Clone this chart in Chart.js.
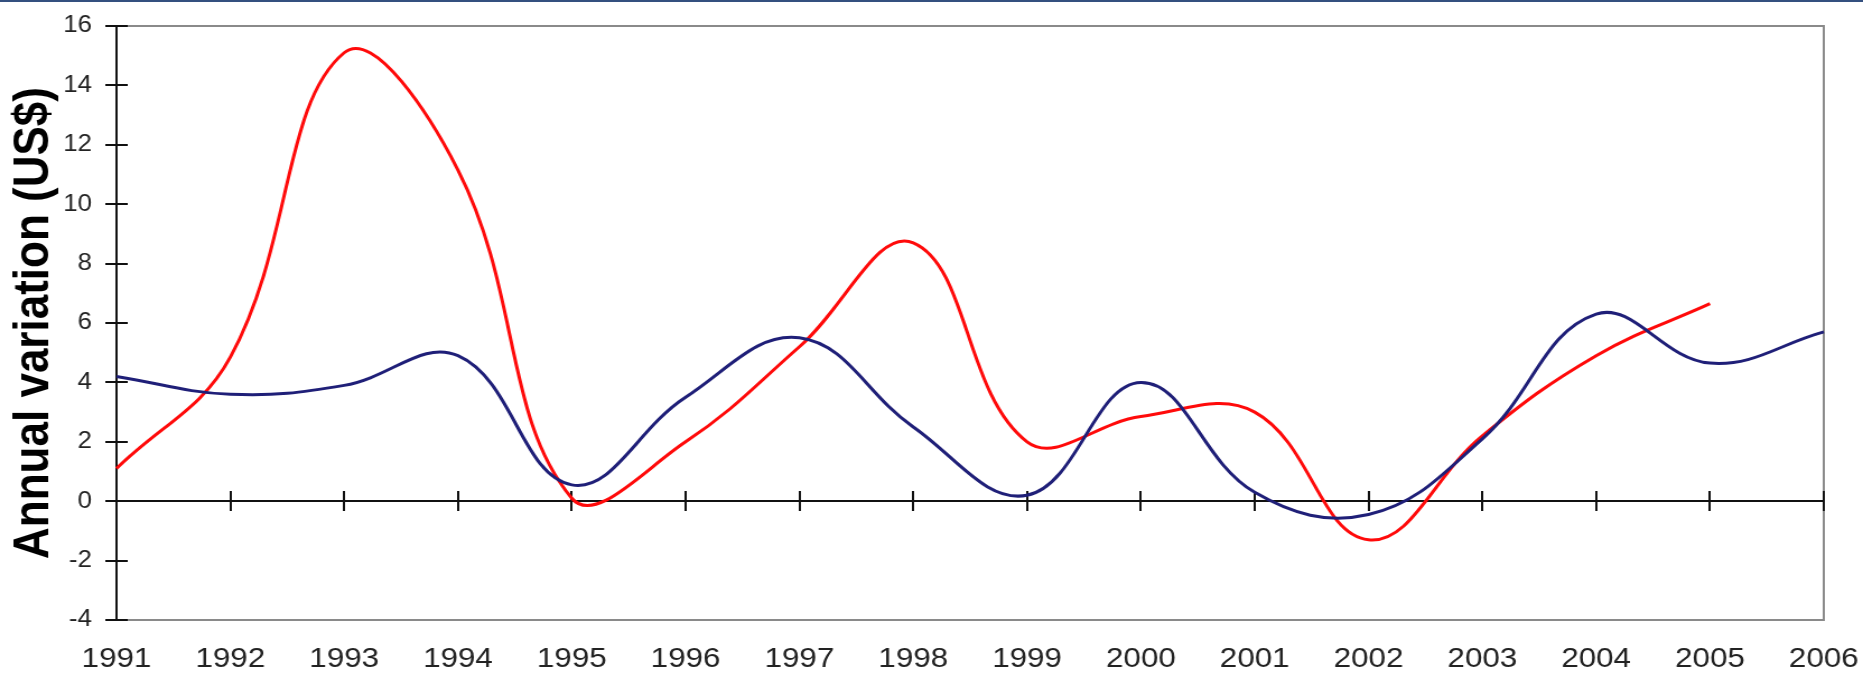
<!DOCTYPE html>
<html>
<head>
<meta charset="utf-8">
<script src="https://cdn.jsdelivr.net/npm/chart.js@4.4.1/dist/chart.umd.min.js"></script>
<style>
  html, body { margin: 0; padding: 0; background: #ffffff; }
  #wrap { position: relative; width: 1863px; height: 675px; overflow: hidden; background: #ffffff; }
  #stretch { position: absolute; left: 0; top: 0; width: 1663px; height: 675px; transform-origin: 0 0; transform: scaleX(1.120265); }
  #topbar { position: absolute; left: 0; top: 0; width: 1863px; height: 2px; background: #34507f; }
  canvas { display: block; }
</style>
</head>
<body>
<div id="wrap">
  <div id="stretch"><canvas id="c" width="1663" height="675"></canvas></div>
  <div id="topbar"></div>
</div>
<script>
// ---- data ----
const years = ['1991','1992','1993','1994','1995','1996','1997','1998','1999','2000','2001','2002','2003','2004','2005','2006'];
const blueSeries = [4.2, 3.6, 3.9, 4.9, 0.55, 3.5, 5.5, 2.5, 0.2, 4.0, 0.3, -0.45, 2.1, 6.3, 4.65, 5.7];
const redSeries  = [1.1, 4.85, 15.1, 11.15, 0.1, 2.0, 5.2, 8.7, 2.0, 2.85, 3.0, -1.3, 2.2, 4.9, 6.65];
const yMin = -4, yMax = 16, yStep = 2;
const yTitle = 'Annual variation (US$)';

const FONT = "'Liberation Sans', Arial, Helvetica, sans-serif";

// decorations: frame, zero line and crossing tick marks, computed from the scales
const axisDecor = {
  id: 'axisDecor',
  beforeDatasetsDraw(chart) {
    const {ctx, chartArea: a, scales: {x, y}} = chart;
    ctx.save();
    ctx.lineCap = 'butt';
    // gray frame top & right
    ctx.strokeStyle = '#8a8a8a';
    ctx.lineWidth = 2;
    ctx.beginPath();
    ctx.moveTo(a.left, a.top); ctx.lineTo(a.right + 1, a.top);
    ctx.moveTo(a.right, a.top); ctx.lineTo(a.right, a.bottom);
    ctx.stroke();
    // zero line
    const y0 = Math.round(y.getPixelForValue(0));
    ctx.strokeStyle = '#111';
    ctx.lineWidth = 2;
    ctx.beginPath();
    ctx.moveTo(a.left, y0); ctx.lineTo(a.right, y0);
    // x tick marks crossing the zero line
    x.ticks.forEach((t, i) => {
      const px = Math.round(x.getPixelForTick(i));
      ctx.moveTo(px, y0 - 10); ctx.lineTo(px, y0 + 10);
    });
    // inner half of y tick marks
    y.ticks.forEach(t => {
      const py = Math.round(y.getPixelForValue(t.value));
      ctx.moveTo(a.left, py); ctx.lineTo(a.left + 10, py);
    });
    ctx.stroke();
    ctx.restore();
  }
};

new Chart(document.getElementById('c'), {
  type: 'line',
  data: {
    labels: years,
    datasets: [
      { label: 'Series 1', data: blueSeries, borderColor: '#1f1f78', borderWidth: 3, pointRadius: 0, tension: 0.4, fill: false },
      { label: 'Series 2', data: redSeries, borderColor: '#ff0a0a', borderWidth: 3, pointRadius: 0, tension: 0.4, fill: false }
    ]
  },
  options: {
    responsive: false,
    devicePixelRatio: 1,
    animation: false,
    layout: { padding: { top: 26, right: 35, bottom: 0, left: 0 } },
    plugins: { legend: { display: false }, tooltip: { enabled: false }, title: { display: false } },
    scales: {
      x: {
        position: 'bottom',
        offset: false,
        grid: { display: false, drawTicks: true, tickLength: 22 },
        border: { display: true, color: '#8a8a8a', width: 2 },
        ticks: { color: '#222', font: { family: FONT, size: 28 }, padding: 0, maxRotation: 0, autoSkip: false },
        afterFit(s) { s.height = 55; }
      },
      y: {
        min: yMin, max: yMax,
        grid: { drawOnChartArea: false, drawTicks: true, tickLength: 10, color: '#111', lineWidth: 2 },
        border: { display: true, color: '#111', width: 2 },
        ticks: { stepSize: yStep, color: '#222', font: { family: FONT, size: 23 }, padding: 12 },
        title: { display: true, text: yTitle, color: '#000', font: { family: FONT, size: 44, weight: 'bold' }, padding: { top: 4, bottom: 0 } },
        afterFit(s) { s.width = 104; }
      }
    }
  },
  plugins: [axisDecor]
});
</script>
</body>
</html>
